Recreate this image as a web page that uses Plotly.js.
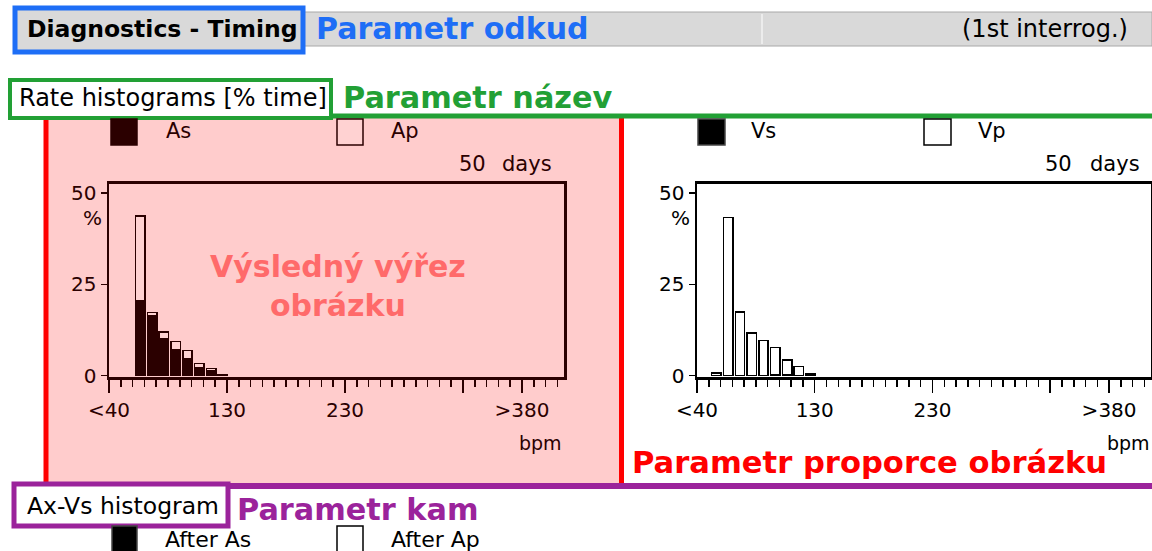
<!DOCTYPE html>
<html>
<head>
<meta charset="utf-8">
<script src="https://cdn.plot.ly/plotly-3.0.1.min.js"></script>
<style>html,body{margin:0;padding:0;background:#fff;}#chart{width:1152px;height:551px;}</style>
</head>
<body>
<div id="chart"></div>
<script>
// ---- data ----
const binStarts = [40, 50, 60, 70, 80, 90, 100, 110, 120];   // bpm, 10-bpm bins
const asValues = [null, 20.4, 16.3, 10.2, 7.2, 4.5, 2.3, 1.4, 0.3];  // % time, atrial sensed
const apValues = [null, 23.3, 1.0, 1.8, 2.2, 2.4, 1.1, 0.6, 0];      // % time, atrial paced
const vsValues = [0, 0, 0, 0, 0, 0.3, 0.3, 0, 0.4];                  // % time, ventricular sensed
const vpValues = [0.8, 43.3, 17.4, 11.7, 9.6, 7.4, 4.0, 2.5, 0];     // % time, ventricular paced
const xTickVals = [30, 130, 230, 330, 380];
const xTickText = ['<40', '130', '230', '', '>380'];
const yTickVals = [0, 25, 50];
const daysLabel = '50';

// ---- helpers (pixel -> paper) ----
const W = 1152, H = 551;
const X = p => p / W;
const Y = p => 1 - p / H;
const FONT = 'DejaVu Sans';
const dark = '#2b0000';
const blue = '#1e6ef6', green = '#22a035', purple = '#9b239b', red = '#ff0000', salmon = '#ff6a6a';

const barCommon = {type: 'bar', width: 8, offset: 2.5, hoverinfo: 'skip'};
const traces = [
  Object.assign({}, barCommon, {x: binStarts, y: asValues, name: 'As', xaxis: 'x', yaxis: 'y',
    marker: {color: dark, line: {color: dark, width: 1.5}}}),
  Object.assign({}, barCommon, {x: binStarts, y: apValues, name: 'Ap', xaxis: 'x', yaxis: 'y',
    marker: {color: '#ffd2d2', line: {color: dark, width: 1.5}}}),
  Object.assign({}, barCommon, {x: binStarts, y: vsValues, name: 'Vs', xaxis: 'x2', yaxis: 'y2',
    marker: {color: '#000', line: {color: '#000', width: 1.5}}}),
  Object.assign({}, barCommon, {x: binStarts, y: vpValues, name: 'Vp', xaxis: 'x2', yaxis: 'y2',
    marker: {color: '#fff', line: {color: '#000', width: 1.5}}})
];

function xAxis(dom, col, anchor) {
  return {domain: dom, range: [30, 415.6], anchor: anchor,
    tickmode: 'array', tickvals: xTickVals, ticktext: xTickText,
    ticks: 'outside', ticklen: 13, tickwidth: 1.5, tickcolor: col,
    tickfont: {family: FONT, size: 20, color: col},
    showline: true, linewidth: 2.5, linecolor: col, mirror: true,
    showgrid: false, zeroline: false, fixedrange: true,
    minor: {tick0: 30, dtick: 10, ticks: 'outside', ticklen: 7, tickwidth: 1.5, tickcolor: col, showgrid: false}};
}
function yAxis(dom, col, anchor) {
  return {domain: dom, range: [-0.36, 52.6], anchor: anchor,
    tickmode: 'array', tickvals: yTickVals,
    ticks: 'outside', ticklen: 6, tickwidth: 1.5, tickcolor: col,
    tickfont: {family: FONT, size: 20, color: col},
    showline: true, linewidth: 2.5, linecolor: col, mirror: true,
    showgrid: false, zeroline: false, fixedrange: true};
}

const rect = (x0, y0, x1, y1, fill, lineCol, lw, layer) => ({type: 'rect', xref: 'paper', yref: 'paper',
  x0: X(x0), x1: X(x1), y0: Y(y1), y1: Y(y0), fillcolor: fill,
  line: {color: lineCol || 'rgba(0,0,0,0)', width: lw || 0}, layer: layer || 'below'});
const line = (x0, y0, x1, y1, col, lw) => ({type: 'line', xref: 'paper', yref: 'paper',
  x0: X(x0), x1: X(x1), y0: Y(y0), y1: Y(y1), line: {color: col, width: lw}, layer: 'below'});

const shapes = [
  // header bar
  rect(303, 12, 1152, 46, '#d9d9d9', '#a8a8a8', 1),
  line(762, 14, 762, 44, '#f2f2f2', 1.5),
  rect(15, 8, 303, 52, '#d9d9d9', blue, 5),
  // left (pink) panel
  rect(46, 117, 622, 486, '#ffcccc'),
  line(46, 117, 46, 486, red, 5),
  line(621.5, 117, 621.5, 486, red, 5),
  // green separator + box
  line(10, 116, 1152, 116, green, 5),
  rect(10, 80, 331, 118, '#ffffff', green, 4),
  // purple separator + box
  line(14, 486, 1152, 486, purple, 6),
  rect(14, 484, 228, 526, '#ffffff', purple, 5),
  // legend squares
  rect(111, 119, 137, 145, dark, dark, 1.5),
  rect(337, 119, 363, 145, '#ffd2d2', dark, 1.5),
  rect(698, 119, 725, 145, '#000', '#444', 1.5),
  rect(924, 119, 951, 145, '#fff', '#000', 1.5),
  rect(112, 526, 137, 560, '#000', '#444', 1.5),
  rect(337, 526, 363, 560, '#fff', '#000', 1.5)
];

const ann = (text, x, y, xa, size, col, bold) => ({text: bold ? '<b>' + text + '</b>' : text,
  xref: 'paper', yref: 'paper', x: X(x), y: Y(y), xanchor: xa, yanchor: 'middle', showarrow: false,
  font: {family: FONT, size: size, color: col}});

const annotations = [
  ann('Diagnostics - Timing', 25, 29, 'left', 23.5, '#000', true),
  ann('Parametr odkud', 314, 29, 'left', 30, blue, true),
  ann('(1st interrog.)', 1130, 29, 'right', 24, '#000'),
  ann('Rate histograms [% time]', 17, 98, 'left', 24, '#000'),
  ann('Parametr název', 341, 97, 'left', 30.3, green, true),
  ann('As', 164, 131, 'left', 21, dark),
  ann('Ap', 389, 131, 'left', 21, dark),
  ann(daysLabel, 488, 164, 'right', 21, dark),
  ann('days', 554, 164, 'right', 21, dark),
  ann('%', 92, 218, 'center', 20, dark),
  ann('bpm', 540, 443, 'center', 19, dark),
  ann('Výsledný výřez<br>obrázku', 338, 286, 'center', 30, salmon, true),
  ann('Vs', 749, 131, 'left', 21, '#000'),
  ann('Vp', 976, 131, 'left', 21, '#000'),
  ann(daysLabel, 1074, 164, 'right', 21, '#000'),
  ann('days', 1142, 164, 'right', 21, '#000'),
  ann('%', 680, 218, 'center', 20, '#000'),
  ann('bpm', 1128, 443, 'center', 19, '#000'),
  ann('Parametr proporce obrázku', 630, 462, 'left', 30.6, red, true),
  ann('Ax-Vs histogram', 25, 506, 'left', 23.5, '#000'),
  ann('Parametr kam', 235, 509, 'left', 30.3, purple, true),
  ann('After As', 163, 539, 'left', 22, '#000'),
  ann('After Ap', 389, 539, 'left', 22, '#000')
];

const plotDomY = [Y(377), Y(183.5)];
const layout = {
  width: W, height: H, margin: {l: 0, r: 0, t: 0, b: 0, pad: 0},
  paper_bgcolor: '#ffffff', plot_bgcolor: 'rgba(0,0,0,0)',
  showlegend: false, barmode: 'stack', bargap: 0,
  font: {family: FONT, size: 20, color: '#000'},
  xaxis: xAxis([X(109), X(564)], dark, 'y'),
  yaxis: yAxis(plotDomY, dark, 'x'),
  xaxis2: xAxis([X(697), X(1151)], '#000', 'y2'),
  yaxis2: yAxis(plotDomY, '#000', 'x2'),
  shapes: shapes,
  annotations: annotations
};

Plotly.newPlot('chart', traces, layout, {displayModeBar: false, staticPlot: true});
</script>
</body>
</html>
